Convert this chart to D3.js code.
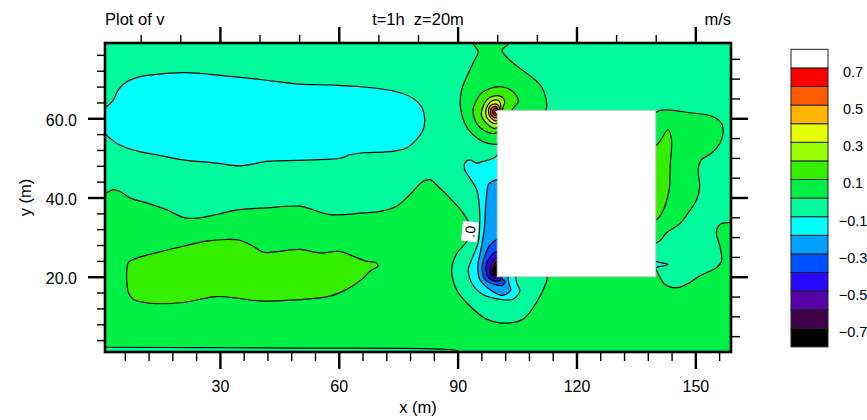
<!DOCTYPE html>
<html>
<head>
<meta charset="utf-8">
<script src="https://cdn.jsdelivr.net/npm/d3@7"></script>
<style>
  body { margin: 0; background: #fff; }
  svg { display: block; font-family: "Liberation Sans", Arial, Helvetica, sans-serif; }
</style>
</head>
<body>
<svg id="chart" width="867" height="420"></svg>
<script>
// ---- contour levels and fill colours (v, m/s) ----
const levels = [-0.7, -0.6, -0.5, -0.4, -0.3, -0.2, -0.1, 0, 0.1, 0.2, 0.3, 0.4, 0.5, 0.6, 0.7];
const colorbarLabels = [0.7, 0.5, 0.3, 0.1, -0.1, -0.3, -0.5, -0.7];

// ---- domain (m) and tick values ----
const xDomain = [1, 159];
const yDomain = [1, 79];
const xMajor = [30, 60, 90, 120, 150];
const yMajor = [20, 40, 60];

// obstacle (masked cells)
const building = { x0: 100, x1: 140, y0: 20, y1: 62 };

// ---- contour regions, vertices in (x m, y m) ----
// 0 .. 0.1 : lower half of the domain (bounded above by the zero line)
const greenLower = [[-4,41.0],[1,41.0],[3.1,42.0],[4.8,41.5],[7.3,39.9],[12.3,38.4],[16.6,36.9],[20.7,35.0],[24.1,34.8],
  [29.2,35.7],[33.4,36.7],[41.8,37.4],[50.2,37.8],[53.5,36.9],[57.8,35.7],[66.2,36.1],[70.4,36.5],[74.6,37.8],
  [77.9,40.7],[81.3,44.1],[83.0,44.5],[85.5,42.4],[88.5,39.4],[91.3,36.2],[93.3,32.4],[92.3,28.9],[89.8,25.9],
  [88.5,21.8],[89.7,16.8],[93.1,12.6],[97.3,9.3],[102.3,8.3],[106.5,9.3],[109.9,13.5],[112.4,18.6],[113.3,22.3],
  [125.9,27.0],[138.5,23.8],[142.3,18.1],[145.2,17.2],[147.8,18.1],[151.1,20.2],[155.3,22.3],[156.6,23.9],
  [156.2,27.7],[155.3,31.1],[156.2,33.2],[158.7,33.7],[163,33.7],[163,-2],[93,-2],[90.1,1.2],[86.8,1.7],
  [50.2,2.0],[25.0,2.1],[1,2.2],[-4,2.2]];
// -0.2 .. -0.1 : western low
const cyanWest = [[-4,56.5],[-4,62.5],[1,62.8],[3.1,64.6],[4.3,67.1],[6.5,69.2],[9.8,70.5],[14.0,71.1],[20.7,71.5],
  [27.5,71.1],[33.3,70.5],[41.8,69.6],[50.2,68.6],[57.7,68.4],[66.1,67.9],[74.6,66.7],[78.8,65.0],[80.9,62.9],
  [81.7,59.6],[81.3,57.1],[79.6,54.6],[77.1,52.5],[72.9,51.6],[66.2,51.3],[62.8,50.8],[60.3,49.9],[53.5,49.5],
  [45.9,49.3],[41.8,49.1],[35.0,48.0],[29.2,48.7],[20.7,49.5],[14.0,50.8],[9.8,51.6],[6.5,52.5],[3.9,53.7],
  [2.2,55.0],[1,56.0]];
// 0.1 .. 0.2 : south-western band
const limeWest = [[6.5,21.4],[6.9,23.6],[9.0,24.7],[14.0,26.1],[20.7,27.7],[26.6,29.0],[31.7,29.4],[35.0,29.2],
  [38.4,27.7],[40.9,26.2],[45.1,26.4],[50.2,26.9],[55.2,26.0],[60.3,26.4],[63.6,25.2],[67.0,23.9],[69.5,23.5],
  [69.9,22.7],[67.9,21.4],[65.3,18.9],[62.0,16.8],[57.8,15.1],[50.2,14.2],[40.1,13.9],[35.0,14.5],[29.2,15.0],
  [20.7,13.5],[12.3,13.3],[8.1,14.3],[6.9,16.0],[6.5,18.8]];
// positive plume off the upwind top corner
const plume0 = [[93.9,81.5],[93.9,78.9],[95.2,76.8],[94.3,74.7],[92.3,70.5],[91.0,67.1],[90.7,62.9],[91.8,58.7],
  [93.9,55.8],[96.4,54.1],[99.4,53.4],[103.2,54.5],[109.5,59.1],[112.3,62.1],[112.3,65.0],[111.2,67.9],
  [109.1,70.1],[105.7,72.6],[102.4,75.4],[101.2,77.2],[102.9,78.9],[102.9,81.5]];
const plume1 = [[99.4,56.2],[97.3,56.6],[94.8,58.7],[93.9,62.1],[94.8,64.6],[95.6,65.9],[98.1,67.5],[101.5,67.9],
  [104.4,66.3],[105.3,64.2],[104.0,62.5],[102.7,60.1],[101.2,57.6]];
const plume2 = [[99.9,57.6],[99.0,57.5],[97.3,58.7],[96.0,60.8],[96.4,62.9],[97.3,64.6],[99.0,65.6],[101.1,65.4],
  [101.9,64.2],[101.4,62.6],[101.2,60.1]];
const plume3 = [[99.9,58.7],[98.1,59.3],[97.1,61.1],[97.6,63.3],[98.9,64.5],[100.4,64.4],[100.9,63.1],[100.7,60.6]];
const plume4 = [[99.9,59.4],[98.4,60.1],[97.8,61.5],[98.1,63.0],[99.1,63.6],[100.2,63.3],[100.7,61.6]];
const plume5 = [[99.9,60.1],[98.6,60.6],[98.3,61.6],[98.6,62.6],[99.6,63.0],[100.4,61.6]];
const plume6 = [[99.9,60.6],[99.0,61.1],[98.8,61.7],[99.1,62.3],[99.9,62.5],[100.4,61.6]];
const plume7 = [[99.9,61.1],[99.4,61.6],[99.8,62.0],[100.3,61.6]];
// negative core at the upwind bottom corner
const low1 = [[101.9,52.0],[99.0,49.9],[96.4,49.1],[94.8,48.7],[93.1,49.5],[91.8,48.7],[91.8,47.0],[93.1,44.9],
  [94.8,42.0],[95.4,38.7],[95.6,34.4],[95.2,28.6],[93.9,25.2],[92.7,21.8],[93.5,18.5],[96.4,15.5],[100.7,14.3],
  [104.0,14.3],[105.7,16.4],[104.9,18.5],[104.4,22.3],[103.7,39.4]];
const low2 = [[103.2,45.0],[99.9,44.5],[97.9,43.5],[97.2,39.4],[96.7,31.9],[95.9,26.9],[95.1,22.8],[95.6,19.3],
  [98.1,16.8],[101.4,15.3],[103.4,16.6],[102.9,18.6],[102.7,23.1]];
const low3 = [[102.7,29.9],[99.9,29.4],[98.1,27.9],[96.9,25.4],[96.2,22.3],[96.9,19.3],[99.1,18.1],[101.2,17.8],
  [102.0,18.8],[101.2,19.6],[101.9,23.1]];
const low4 = [[101.9,26.9],[99.9,26.4],[98.1,24.9],[97.2,22.6],[97.8,19.8],[99.6,18.9],[100.9,19.2],[100.7,19.9],[101.4,22.3]];
const low5 = [[101.4,25.4],[99.9,24.9],[98.5,23.3],[98.1,21.6],[98.9,19.9],[100.2,19.6],[100.5,20.1],[101.2,22.3]];
const low6 = [[100.9,24.1],[99.6,23.6],[98.8,22.3],[98.8,20.8],[99.8,20.2],[100.7,21.6]];
const low7 = [[100.4,23.0],[99.5,22.6],[99.0,21.7],[99.3,20.7],[100.0,20.6],[100.5,21.8]];
// lee side of the obstacle
const greenEast = [[137.2,58.3],[140.9,61.9],[148.6,61.4],[154.5,60.4],[156.6,58.7],[157.0,56.2],[156.2,53.7],
  [154.1,51.2],[151.5,49.5],[150.7,47.0],[151.1,42.8],[150.3,39.4],[148.2,36.1],[146.1,33.4],[142.7,31.1],
  [141.0,29.0],[137.2,28.1]];
const limeEast = [[137.2,52.0],[140.3,53.3],[143.1,57.1],[144.0,54.5],[143.7,48.8],[143.4,42.0],[142.3,37.8],
  [141.0,35.2],[139.0,33.9],[137.2,42.0]];
const cyanEast = [[138.5,24.9],[140.3,23.8],[143.1,23.1],[140.3,22.4],[138.5,21.8]];

// regions in drawing order, each with a value lying inside its band
const regions = [
  { v: 0.05, pts: greenLower },
  { v: -0.15, pts: cyanWest },
  { v: 0.15, pts: limeWest },
  { v: 0.05, pts: plume0 },
  { v: 0.15, pts: plume1 },
  { v: 0.25, pts: plume2 },
  { v: 0.35, pts: plume3 },
  { v: 0.45, pts: plume4 },
  { v: 0.55, pts: plume5 },
  { v: 0.65, pts: plume6 },
  { v: 0.75, pts: plume7 },
  { v: -0.15, pts: low1 },
  { v: -0.25, pts: low2 },
  { v: -0.35, pts: low3 },
  { v: -0.45, pts: low4 },
  { v: -0.55, pts: low5 },
  { v: -0.65, pts: low6 },
  { v: -0.75, pts: low7 },
  { v: 0.05, pts: greenEast },
  { v: 0.15, pts: limeEast },
  { v: -0.15, pts: cyanEast }
];
const backgroundValue = -0.05;
const zeroLabel = { text: ".0", at: [93.1, 31.4] };

// ---- styling ----
const bandColors = ["#000000", "#3e0048", "#5800a8", "#2a08ff", "#0050ff", "#00a0ff", "#00ffff", "#00fa9c",
  "#00f046", "#34f000", "#96ff00", "#e6ff00", "#ffb400", "#ff5a00", "#ff0000", "#ffffff"];
const plot = { left: 105, right: 731, top: 43, bottom: 352 };

const svg = d3.select("#chart");
const x = d3.scaleLinear().domain(xDomain).range([plot.left, plot.right]);
const y = d3.scaleLinear().domain(yDomain).range([plot.bottom, plot.top]);
const color = d3.scaleThreshold().domain(levels).range(bandColors);

const shape = d3.line().x(d => x(d[0])).y(d => y(d[1])).curve(d3.curveCatmullRomClosed.alpha(0.5));

svg.append("defs").append("clipPath").attr("id", "plotClip")
  .append("rect").attr("x", plot.left).attr("y", plot.top)
  .attr("width", plot.right - plot.left).attr("height", plot.bottom - plot.top);

const field = svg.append("g").attr("clip-path", "url(#plotClip)");
field.append("rect").attr("x", plot.left).attr("y", plot.top)
  .attr("width", plot.right - plot.left).attr("height", plot.bottom - plot.top)
  .attr("fill", color(backgroundValue));

field.selectAll("path.band").data(regions).join("path")
  .attr("class", "band").attr("d", d => shape(d.pts)).attr("fill", d => color(d.v));
field.selectAll("path.cline").data(regions).join("path")
  .attr("class", "cline").attr("d", d => shape(d.pts))
  .attr("fill", "none").attr("stroke", "#000").attr("stroke-width", 1.2).attr("stroke-linejoin", "round");

// masked obstacle
field.append("rect")
  .attr("x", x(building.x0)).attr("y", y(building.y1))
  .attr("width", x(building.x1) - x(building.x0)).attr("height", y(building.y0) - y(building.y1))
  .attr("fill", "#fff").attr("stroke", "#c8c8c8").attr("stroke-width", 1);

// zero-line label
const lab = field.append("g")
  .attr("transform", `translate(${x(zeroLabel.at[0])},${y(zeroLabel.at[1])}) rotate(-84)`);
lab.append("rect").attr("x", -10).attr("y", -8).attr("width", 20).attr("height", 16).attr("fill", "#fff");
lab.append("text").attr("text-anchor", "middle").attr("dy", "0.36em")
  .attr("font-size", 14).text(zeroLabel.text);

// ---- axes ----
function drawAxis(axisGen, transform, values, size, width, fmt, pad, fontSize) {
  const g = svg.append("g").attr("transform", transform)
    .call(axisGen.tickValues(values).tickSize(size).tickPadding(pad).tickFormat(fmt));
  g.select(".domain").remove();
  g.selectAll("line").attr("stroke", "#000").attr("stroke-width", width);
  g.selectAll("text").attr("font-size", fontSize).attr("fill", "#000")
    .attr("font-family", "'Liberation Sans', Arial, sans-serif");
  return g;
}
const xMinorB = d3.range(6, 159, 6).filter(v => !xMajor.includes(v));
const xMinorT = d3.range(10, 159, 10).filter(v => !xMajor.includes(v));
const yMinorL = d3.range(4, 79, 4).filter(v => !yMajor.includes(v));
const yMinorR = d3.range(5, 79, 5).filter(v => !yMajor.includes(v));
const none = () => "";

drawAxis(d3.axisBottom(x), `translate(0,${plot.bottom})`, xMinorB, 9, 1.4, none, 0, 0);
drawAxis(d3.axisBottom(x), `translate(0,${plot.bottom})`, xMajor, 17, 2.4, d3.format("d"), 12, 16);
drawAxis(d3.axisTop(x), `translate(0,${plot.top})`, xMinorT, 8, 1.4, none, 0, 0);
drawAxis(d3.axisTop(x), `translate(0,${plot.top})`, xMajor, 16, 2.4, none, 0, 0);
drawAxis(d3.axisLeft(y), `translate(${plot.left},0)`, yMinorL, 8, 1.4, none, 0, 0);
const yl = drawAxis(d3.axisLeft(y), `translate(${plot.left},0)`, yMajor, 17, 2.4, d3.format(".1f"), 11, 16);
yl.selectAll("text").attr("dy", "0.42em");
drawAxis(d3.axisRight(y), `translate(${plot.right},0)`, yMinorR, 9, 1.4, none, 0, 0);
drawAxis(d3.axisRight(y), `translate(${plot.right},0)`, yMajor, 17, 2.4, none, 0, 0);

// frame
svg.append("rect").attr("x", plot.left).attr("y", plot.top)
  .attr("width", plot.right - plot.left).attr("height", plot.bottom - plot.top)
  .attr("fill", "none").attr("stroke", "#000").attr("stroke-width", 2.6);

// ---- titles ----
const txt = (tx, ty, s, anchor, size) => svg.append("text").attr("x", tx).attr("y", ty)
  .attr("text-anchor", anchor).attr("font-size", size).attr("fill", "#000")
  .style("white-space", "pre").text(s);
txt(plot.left, 25, "Plot of v", "start", 16.5);
txt((plot.left + plot.right) / 2, 25, "t=1h  z=20m", "middle", 16.5);
txt(plot.right, 25, "m/s", "end", 16.5);
txt((plot.left + plot.right) / 2, 413, "x (m)", "middle", 16.5);
svg.append("text").attr("transform", `translate(31,${(plot.top + plot.bottom) / 2}) rotate(-90)`)
  .attr("text-anchor", "middle").attr("font-size", 16.5).text("y (m)");

// ---- colour bar ----
const cb = { x: 791, w: 37, top: 49.3, box: 18.6 };
const cbY = d3.scaleLinear().domain([0.8, -0.8]).range([cb.top, cb.top + 16 * cb.box]);
const bands = d3.range(16).map(i => ({ lo: -0.8 + 0.1 * i, hi: -0.7 + 0.1 * i }));
svg.append("g").selectAll("rect").data(bands).join("rect")
  .attr("x", cb.x).attr("width", cb.w)
  .attr("y", d => cbY(d.hi)).attr("height", d => cbY(d.lo) - cbY(d.hi))
  .attr("fill", d => color((d.lo + d.hi) / 2))
  .attr("stroke", "#222").attr("stroke-width", 1);
svg.append("g").selectAll("text").data(colorbarLabels).join("text")
  .attr("x", 853).attr("y", d => cbY(d) + 8.8)
  .attr("text-anchor", "middle").attr("font-size", 14.5)
  .text(d => d3.format(".1f")(d));
</script>
</body>
</html>
